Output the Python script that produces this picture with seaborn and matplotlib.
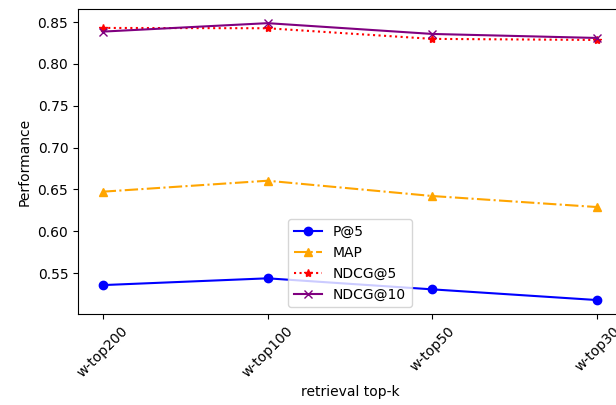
import matplotlib
matplotlib.use("Agg")
import matplotlib.pyplot as plt
import seaborn as sns
import pandas as pd

categories = ['w-top200', 'w-top100', 'w-top50', 'w-top30']
p_at5 = [0.5356, 0.5437, 0.5305, 0.5177]
map_scores = [0.6473, 0.6604, 0.6421, 0.6289]
ndcg_at5 = [0.8431, 0.8427, 0.8300, 0.8287]
ndcg_at10 = [0.8387, 0.8488, 0.8359, 0.8311]

df = pd.DataFrame({'k': categories, 'P@5': p_at5, 'MAP': map_scores,
                   'NDCG@5': ndcg_at5, 'NDCG@10': ndcg_at10})

fig = plt.figure(figsize=(6.16, 4.05), dpi=100)
# axes run slightly past the right edge, like the reference crop
ax = fig.add_axes([0.1266, 0.2249, 0.8831, 0.7521])

# (name, color, marker, linestyle)
series = [
    ('P@5', 'blue', 'o', '-'),
    ('MAP', 'orange', '^', '-.'),
    ('NDCG@5', 'red', '*', ':'),
    ('NDCG@10', 'purple', 'x', '-'),
]
for name, color, marker, ls in series:
    sns.lineplot(data=df, x='k', y=name, ax=ax, color=color, marker=marker,
                 linestyle=ls, label=name, markersize=6, mec=color, mew=1,
                 sort=False)

ax.set_xlabel('retrieval top-k')
ax.set_ylabel('Performance')
plt.setp(ax.get_xticklabels(), rotation=45)
ax.legend(loc='lower center')

fig.savefig('out.png', dpi=100)
